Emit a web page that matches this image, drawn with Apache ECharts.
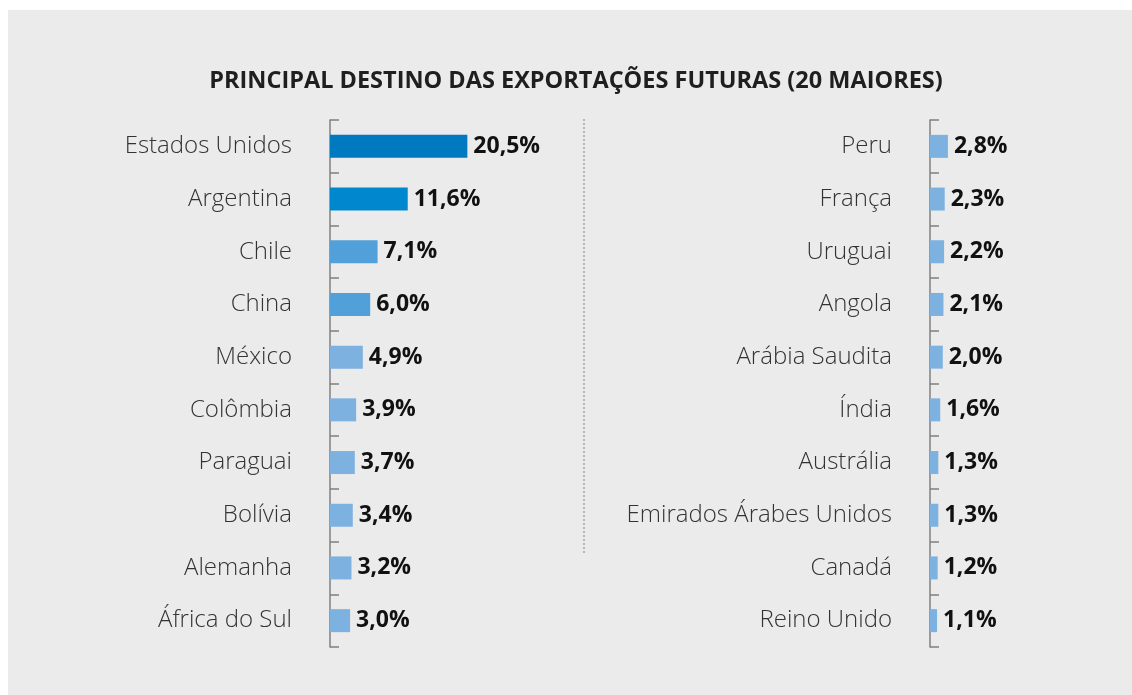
<!DOCTYPE html>
<html>
<head>
<meta charset="utf-8">
<script src="https://cdn.jsdelivr.net/npm/echarts@6/dist/echarts.min.js"></script>
<style>
    body { margin: 0; background: #fff; }
    #chart { position: absolute; left: 8px; top: 10px; width: 1124px; height: 685px; }
</style>
</head>
<body>
<div id="chart"></div>
<script>
const leftCountries = ['Estados Unidos', 'Argentina', 'Chile', 'China', 'México', 'Colômbia', 'Paraguai', 'Bolívia', 'Alemanha', 'África do Sul']
const leftValues = [20.5, 11.6, 7.1, 6.0, 4.9, 3.9, 3.7, 3.4, 3.2, 3.0]

const rightCountries = ['Peru', 'França', 'Uruguai', 'Angola', 'Arábia Saudita', 'Índia', 'Austrália', 'Emirados Árabes Unidos', 'Canadá', 'Reino Unido']
const rightValues = [2.8, 2.3, 2.2, 2.1, 2.0, 1.6, 1.3, 1.3, 1.2, 1.1]

document.addEventListener('DOMContentLoaded', function () {
    const myChart = echarts.init(document.getElementById('chart'))

    // cores das barras (as maiores mais escuras)
    const barColor = function (params) {
        if (params.seriesIndex === 0) {
            if (params.dataIndex === 0) return '#0079c1'
            if (params.dataIndex === 1) return '#0087ce'
            if (params.dataIndex < 4) return '#52a0d9'
        }
        return '#7db1e0'
    }

    const fmt = val => val.toFixed(1).replace('.', ',') + '%'

    const catAxis = (data, grid) => ({
        type: 'category',
        gridIndex: grid,
        data: data,
        inverse: true,
        axisLine: { lineStyle: { color: '#808080', width: 1.5 } },
        axisTick: { show: true, inside: true, length: 9, lineStyle: { color: '#808080', width: 1.5 } },
        axisLabel: {
            margin: 38,
            fontFamily: 'Open Sans',
            fontWeight: 300,
            fontSize: 24,
            color: '#333'
        }
    })

    const valAxis = (grid) => ({
        type: 'value',
        gridIndex: grid,
        min: 0,
        max: 30,
        show: false,
        splitLine: { show: false }
    })

    const barSeries = (values, idx) => ({
        type: 'bar',
        xAxisIndex: idx,
        yAxisIndex: idx,
        data: values,
        barWidth: 23,
        itemStyle: { color: barColor },
        label: {
            show: true,
            position: 'right',
            distance: 6,
            formatter: p => fmt(p.value),
            fontFamily: 'Open Sans',
            fontWeight: 'bold',
            fontSize: 23,
            color: '#111'
        },
        animation: false
    })

    const option = {
        backgroundColor: '#ebebeb',
        title: {
            text: 'PRINCIPAL DESTINO DAS EXPORTAÇÕES FUTURAS (20 MAIORES)',
            left: 563,
            top: 54,
            textAlign: 'center',
            textStyle: {
                fontFamily: 'Open Sans',
                fontWeight: 'bold',
                fontSize: 23.5,
                color: '#1f1f1f'
            }
        },
        grid: [
            { left: 322, top: 110, width: 201, height: 527 },
            { left: 922, top: 110, width: 192, height: 527 }
        ],
        xAxis: [valAxis(0), valAxis(1)],
        yAxis: [catAxis(leftCountries, 0), catAxis(rightCountries, 1)],
        series: [barSeries(leftValues, 0), barSeries(rightValues, 1)],
        graphic: [
            {
                type: 'line',
                shape: { x1: 576, y1: 109, x2: 576, y2: 543 },
                style: { stroke: '#a6a6a6', lineWidth: 1.5, lineDash: [2, 2] }
            }
        ]
    }

    myChart.setOption(option)
})
</script>
</body>
</html>
